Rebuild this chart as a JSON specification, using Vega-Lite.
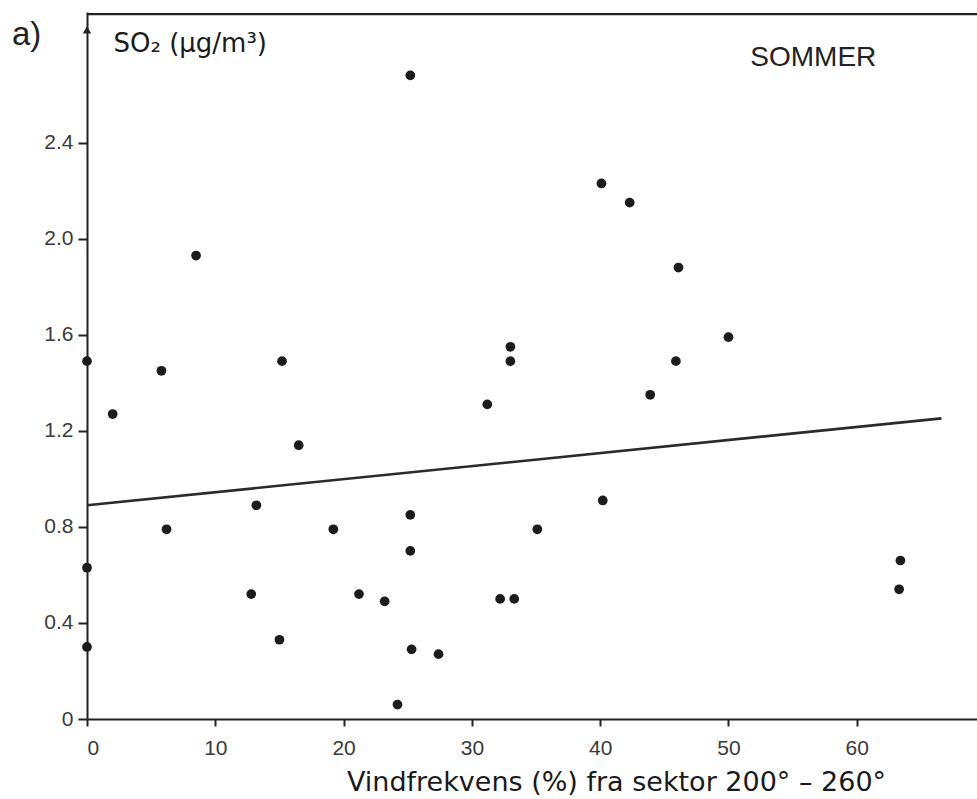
{
  "$schema": "https://vega.github.io/schema/vega-lite/v6.json",
  "autosize": {"type": "none"},
  "width": 890,
  "height": 707,
  "padding": {"left": 87, "top": 12, "right": 0, "bottom": 80},
  "background": "white",
  "data": {"values": [{"k": 1}]},
  "config": {
    "view": {"stroke": null},
    "font": "Liberation Sans",
    "axis": {
      "domainColor": "#222",
      "domainWidth": 2,
      "tickColor": "#222",
      "tickWidth": 2,
      "grid": false,
      "labelFont": "Liberation Sans",
      "labelColor": "#3a3a3a",
      "labelFontSize": 21,
      "titleFont": "DejaVu Sans",
      "titleColor": "#1a1a1a",
      "titleFontWeight": "normal"
    }
  },
  "datasets": {
    "pts": [
      {"x": 0, "y": 1.49},
      {"x": 0, "y": 0.63},
      {"x": 0, "y": 0.30},
      {"x": 2.0, "y": 1.27},
      {"x": 5.8, "y": 1.45},
      {"x": 6.2, "y": 0.79},
      {"x": 8.5, "y": 1.93},
      {"x": 12.8, "y": 0.52},
      {"x": 13.2, "y": 0.89},
      {"x": 15.0, "y": 0.33},
      {"x": 15.2, "y": 1.49},
      {"x": 16.5, "y": 1.14},
      {"x": 19.2, "y": 0.79},
      {"x": 21.2, "y": 0.52},
      {"x": 23.2, "y": 0.49},
      {"x": 24.2, "y": 0.06},
      {"x": 25.2, "y": 2.68},
      {"x": 25.2, "y": 0.85},
      {"x": 25.2, "y": 0.70},
      {"x": 25.3, "y": 0.29},
      {"x": 27.4, "y": 0.27},
      {"x": 31.2, "y": 1.31},
      {"x": 32.2, "y": 0.50},
      {"x": 33.0, "y": 1.55},
      {"x": 33.0, "y": 1.49},
      {"x": 33.3, "y": 0.50},
      {"x": 35.1, "y": 0.79},
      {"x": 40.1, "y": 2.23},
      {"x": 40.2, "y": 0.91},
      {"x": 42.3, "y": 2.15},
      {"x": 43.9, "y": 1.35},
      {"x": 45.9, "y": 1.49},
      {"x": 46.1, "y": 1.88},
      {"x": 50.0, "y": 1.59},
      {"x": 63.4, "y": 0.66},
      {"x": 63.3, "y": 0.54}
    ],
    "fit": [
      {"x": 0, "y": 0.89},
      {"x": 66.6, "y": 1.252}
    ]
  },
  "layer": [
    {
      "data": {"name": "fit"},
      "mark": {"type": "line", "stroke": "#2a2a2a", "strokeWidth": 2.6},
      "encoding": {
        "x": {"field": "x", "type": "quantitative"},
        "y": {"field": "y", "type": "quantitative"}
      }
    },
    {
      "data": {"name": "pts"},
      "mark": {"type": "point", "filled": true, "size": 95, "color": "#1c1c1c", "opacity": 1},
      "encoding": {
        "x": {
          "field": "x",
          "type": "quantitative",
          "scale": {"domain": [0, 69.37], "nice": false, "zero": false},
          "axis": {
            "values": [0, 10, 20, 30, 40, 50, 60],
            "tickSize": 7,
            "labelPadding": 11,
            "title": "Vindfrekvens (%) fra sektor 200° – 260°",
            "titleFontSize": 27,
            "titleAnchor": "start",
            "titleAlign": "center",
            "titleBaseline": "alphabetic",
            "titleX": 529,
            "titleY": 71
          }
        },
        "y": {
          "field": "y",
          "type": "quantitative",
          "scale": {"domain": [0, 2.944], "nice": false, "zero": false},
          "axis": {
            "values": [0, 0.4, 0.8, 1.2, 1.6, 2.0, 2.4],
            "labelExpr": "datum.value == 0 ? '0' : format(datum.value, '.1f')",
            "tickSize": 9,
            "labelPadding": 5,
            "title": "SO₂ (µg/m³)",
            "titleFontSize": 26,
            "titleAngle": 0,
            "titleAlign": "left",
            "titleBaseline": "alphabetic",
            "titleX": 26,
            "titleY": 39
          }
        }
      }
    },
    {
      "mark": {"type": "rule", "stroke": "#222", "strokeWidth": 2.2},
      "encoding": {
        "x": {"datum": 0, "type": "quantitative"},
        "x2": {"datum": 69.37},
        "y": {"datum": 2.935, "type": "quantitative"}
      }
    },
    {
      "mark": {"type": "point", "shape": "triangle-up", "filled": true, "size": 70, "color": "#222", "opacity": 1},
      "encoding": {"x": {"datum": 0}, "y": {"datum": 2.87}}
    },
    {
      "mark": {"type": "text", "text": "a)", "fontSize": 33, "align": "left", "baseline": "alphabetic", "color": "#222"},
      "encoding": {"x": {"datum": -5.85}, "y": {"datum": 2.807}}
    },
    {
      "mark": {"type": "text", "text": "SOMMER", "fontSize": 28, "align": "left", "baseline": "alphabetic", "color": "#222"},
      "encoding": {"x": {"datum": 51.7}, "y": {"datum": 2.72}}
    }
  ]
}
